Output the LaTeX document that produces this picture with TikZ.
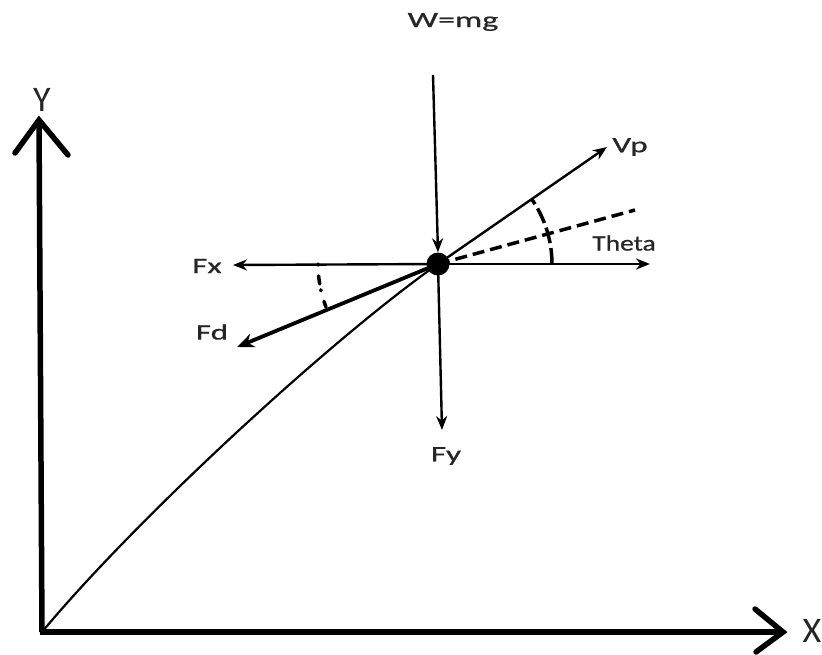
\documentclass[tikz,border=0pt]{standalone}
\usepackage{fontspec}
\usepackage{graphicx}
\setmainfont{Carlito}
\newfontfamily\lblfont[FakeBold=0.6]{Carlito}
\usetikzlibrary{arrows.meta}
\tikzset{
  force/.style={line width=2.4pt,-{Stealth[length=14pt,width=11pt]}},
  bigforce/.style={line width=3.8pt,-{Stealth[length=17pt,width=14pt]}},
  axisline/.style={line width=5.5pt},
  axishead/.style={line width=5.5pt,line cap=round,line join=miter},
  lbl/.style={font=\lblfont\fontsize{22pt}{24pt}\selectfont,text=black!85,inner sep=0pt},
  axlbl/.style={font=\fontsize{36pt}{40pt}\selectfont,text=black!85,inner sep=0pt},
  dashes/.style={line width=3.5pt,dash pattern=on 12pt off 6pt},
}
\begin{document}
\begin{tikzpicture}[x=1pt,y=-1pt]
\useasboundingbox (0,0) rectangle (822,654);
% particle
\node[circle,fill=black,minimum size=23pt,inner sep=0pt] (P) at (438,264) {};
% axes
\coordinate (O) at (42,632);
\coordinate (Ytip) at (39,120);
\coordinate (Xtip) at (783,632);
\draw[axisline] (O) -- (Ytip);
\draw[axisline] (40,632) -- (Xtip);
\draw[axishead] (15,153) -- (Ytip) -- (68,155);
\draw[axishead] (755,609) -- (Xtip) -- (756,652);
\node[axlbl] (Ylab) at (42,100) {Y};
\node[axlbl] (Xlab) at (812,631) {X};
% trajectory
\draw[line width=2.2pt] (O) .. controls (135,520) and (330,340) .. (P.center);
% forces
\coordinate (Wtop) at (433,75);
\coordinate (Vtip) at (607,147);
\coordinate (Ttip) at (650,264);
\coordinate (Xftip) at (233,265);
\coordinate (Ytipf) at (442,430);
\coordinate (Dtip) at (237,347);
\coordinate (Dash) at (635,210);
\draw[force] (Wtop) -- (P.north);
\draw[force] (P.center) -- (Vtip);
\draw[force] (P.center) -- (Ttip);
\draw[force] (P.center) -- (Xftip);
\draw[force] (P.center) -- (Ytipf);
\draw[bigforce] (P.center) -- (Dtip);
\draw[dashes] (P.center) -- (Dash);
% angle arcs
\draw[line width=3.5pt,dash pattern=on 16pt off 5pt] ([shift={(0:114)}]P.center) arc[start angle=0,end angle=-35,radius=114];
\draw[line width=3.5pt,line cap=round,dash pattern=on 1pt off 11pt on 8pt off 6pt] ([shift={(180:120)}]P.center) arc[start angle=180,end angle=159,radius=120];
% labels
\node[lbl] (Wlab) at (453,22) {\scalebox{1.55}[1]{W=mg}};
\node[lbl] (Vlab) at (630,147) {\scalebox{1.5}[1]{Vp}};
\node[lbl] (Tlab) at (624,243) {\scalebox{1.25}[1]{Theta}};
\node[lbl] (Fxlab) at (207,266) {\scalebox{1.5}[1]{Fx}};
\node[lbl] (Fdlab) at (212,332) {\scalebox{1.5}[1]{Fd}};
\node[lbl] (Fylab) at (446,456) {\scalebox{1.5}[1]{Fy}};
\end{tikzpicture}
\end{document}
